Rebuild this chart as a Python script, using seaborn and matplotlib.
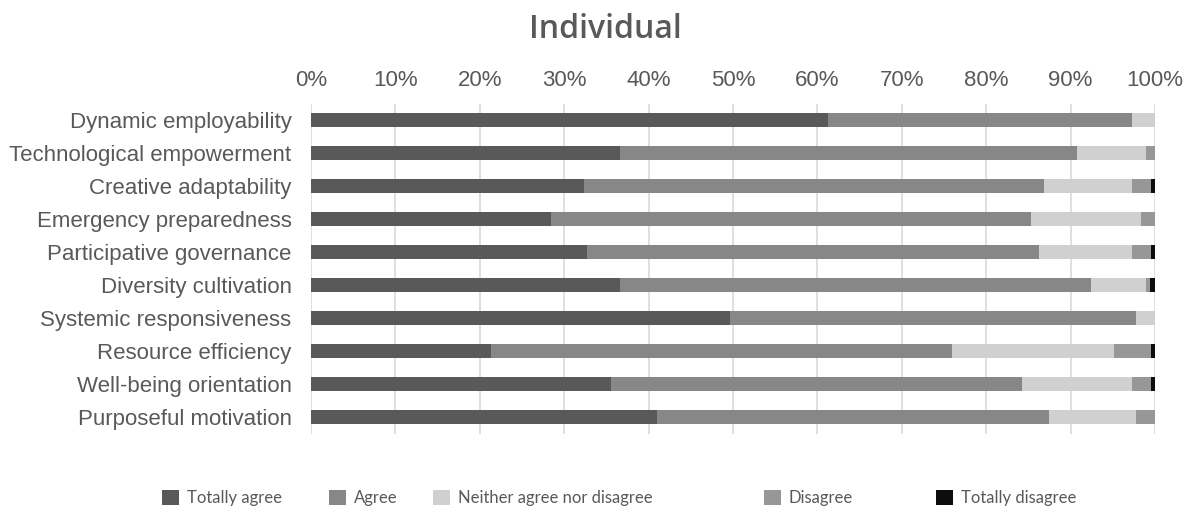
import matplotlib
matplotlib.use("Agg")
import matplotlib.pyplot as plt
import matplotlib.patches as mpatches
import seaborn as sns
import pandas as pd
import numpy as np

categories = ["Dynamic employability", "Technological empowerment", "Creative adaptability",
              "Emergency preparedness", "Participative governance", "Diversity cultivation",
              "Systemic responsiveness", "Resource efficiency", "Well-being orientation",
              "Purposeful motivation"]
series = ["Totally agree", "Agree", "Neither agree nor disagree", "Disagree", "Totally disagree"]
totally_agree = [61.2, 36.6, 32.3, 28.4, 32.7, 36.6, 49.6, 21.3, 35.5, 41.0]
agree = [36.1, 54.1, 54.6, 56.9, 53.6, 55.8, 48.2, 54.6, 48.7, 46.4]
neither = [2.7, 8.2, 10.4, 13.0, 11.0, 6.5, 2.2, 19.2, 13.1, 10.4]
disagree = [0.0, 1.1, 2.2, 1.7, 2.2, 0.5, 0.0, 4.4, 2.2, 2.2]
totally_disagree = [0.0, 0.0, 0.5, 0.0, 0.5, 0.6, 0.0, 0.5, 0.5, 0.0]
xtick_vals = list(range(0, 101, 10))
xtick_labels = [f"{v}%" for v in xtick_vals]
colors = ["#595959", "#878787", "#d0d0d0", "#979797", "#0d0d0d"]

sns.set_theme(style="white")
plt.rcParams["font.family"] = ["Liberation Sans", "DejaVu Sans"]

values = np.array([totally_agree, agree, neither, disagree, totally_disagree])
cum = np.cumsum(values, axis=0)

fig = plt.figure(figsize=(11.89, 5.09), dpi=100)
ax = fig.add_axes([311/1189, 1 - 433.5/509, (1155-311)/1189, (433.5-103.5)/509])

for i in range(len(series) - 1, -1, -1):
    df = pd.DataFrame({"category": categories, "value": cum[i]})
    sns.barplot(data=df, x="value", y="category", orient="h", color=colors[i],
                width=0.4, saturation=1, ax=ax, zorder=2, linewidth=0)

ax.set_xlim(0, 100)
ax.set_ylim(len(categories) - 0.5, -0.5)
ax.set_xticks(xtick_vals)
ax.set_xticklabels(xtick_labels)
ax.xaxis.tick_top()
ax.set_xlabel("")
ax.set_ylabel("")
ax.tick_params(axis="x", length=0, pad=9, labelsize=16, labelcolor="#595959")
ax.tick_params(axis="y", length=0, pad=14, labelsize=16, labelcolor="#595959")
for s in ax.spines.values():
    s.set_visible(False)
ax.grid(axis="x", color="#d9d9d9", linewidth=1.2, zorder=0)
ax.set_axisbelow(True)

fig.text(0.509, 1 - 29/509, "Individual", ha="center", va="center", fontsize=23,
         fontweight="semibold", color="#595959", family=["Open Sans", "DejaVu Sans"])

legend_x = [166, 333, 437, 768, 940]
for i, name in enumerate(series):
    h = mpatches.Patch(facecolor=colors[i], edgecolor="none", label=name)
    leg = fig.legend(handles=[h], loc="center left",
                     bbox_to_anchor=(legend_x[i]/1189 - 0.003, 1 - 498/509),
                     frameon=False, handlelength=1.0, handleheight=1.0,
                     handletextpad=0.45, borderaxespad=0, borderpad=0,
                     prop={"family": ["Lato", "DejaVu Sans"], "size": 12})
    for t in leg.get_texts():
        t.set_color("#595959")

fig.savefig("out.png", dpi=100)
